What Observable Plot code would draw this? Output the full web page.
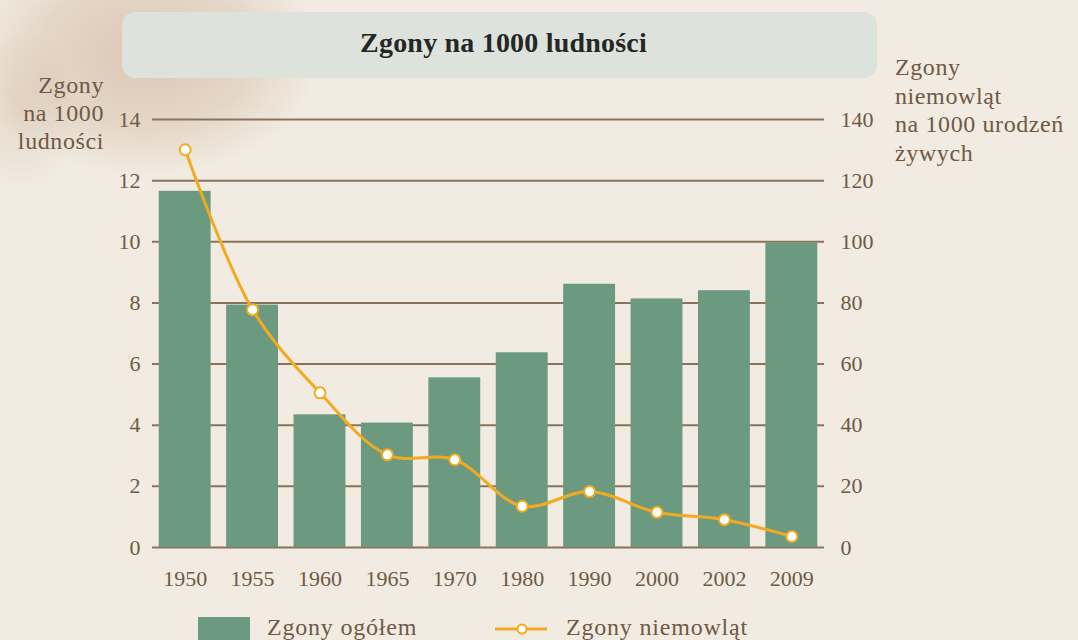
<!DOCTYPE html>
<html>
<head>
<meta charset="utf-8">
<script src="https://cdn.jsdelivr.net/npm/d3@7"></script>
<script src="https://cdn.jsdelivr.net/npm/@observablehq/plot@0.6"></script>
<style>
  html, body { margin: 0; padding: 0; }
  body {
    width: 1078px; height: 640px; overflow: hidden;
    background:
      radial-gradient(ellipse 175px 120px at 145px 55px, rgba(200,165,135,0.50), rgba(205,175,150,0.35) 60%, rgba(215,190,165,0) 100%),
      radial-gradient(ellipse 60px 80px at 20px 110px, rgba(200,170,145,0.3), rgba(200,170,145,0) 100%),
      #f1ebe1;
    font-family: "Liberation Serif", "DejaVu Serif", serif;
    color: #6e5a45;
  }
  #wrap { position: relative; width: 1078px; height: 640px; }
  #titlebox {
    position: absolute; left: 122px; top: 12px; width: 755px; height: 66px;
    background: #dde3dc; border-radius: 13px;
  }
  #titletext {
    position: absolute; left: 0; top: 14px; width: 763px; text-align: center;
    font-weight: bold; font-size: 28px; line-height: 34px; color: #262626; letter-spacing: 0.2px;
  }
  #chart { position: absolute; left: 0; top: 0; }
  .lab { position: absolute; font-size: 24px; line-height: 28px; letter-spacing: 0.6px; white-space: nowrap; }
  #leftlab { right: 974px; top: 71px; text-align: right; }
  #rightlab { left: 895px; top: 53px; text-align: left; line-height: 28.5px; }
  .sw { position: absolute; }
  .legtext { position: absolute; font-size: 24px; line-height: 28px; letter-spacing: 0.8px; white-space: nowrap; }
</style>
</head>
<body>
<div id="wrap">
  <div id="chart"></div>
  <div id="titlebox"><div id="titletext">Zgony na 1000 ludności</div></div>
  <div class="lab" id="leftlab">Zgony<br>na 1000<br>ludności</div>
  <div class="lab" id="rightlab">Zgony<br>niemowląt<br>na 1000 urodzeń<br>żywych</div>
  <div class="sw" style="left:198px; top:617px; width:52px; height:30px; background:#6b9a80;"></div>
  <div class="legtext" style="left:267px; top:613px;">Zgony ogółem</div>
  <svg class="sw" style="left:494px; top:621px;" width="54" height="16">
    <line x1="1" y1="8" x2="53" y2="8" stroke="#f2ab1f" stroke-width="3"></line>
    <circle cx="28" cy="8" r="4.5" fill="#fff" stroke="#f2ab1f" stroke-width="2"></circle>
  </svg>
  <div class="legtext" style="left:566px; top:613px;">Zgony niemowląt</div>
</div>
<script>
const years = ["1950","1955","1960","1965","1970","1980","1990","2000","2002","2009"];
const totalDeaths = [11.65, 7.93, 4.34, 4.07, 5.55, 6.37, 8.61, 8.13, 8.40, 9.96];
const infantDeaths = [130.1, 77.8, 50.6, 30.3, 28.7, 13.5, 18.3, 11.5, 9.1, 3.6];
const leftTicks = [0, 2, 4, 6, 8, 10, 12, 14];

const data = years.map((y, i) => ({year: y, total: totalDeaths[i], infant: infantDeaths[i]}));

const green = "#6b9a80";
const orange = "#f2ab1f";
const grid = "#8a735c";
const textCol = "#6e5a45";

const chart = Plot.plot({
  width: 1078,
  height: 610,
  marginLeft: 152,
  marginRight: 254,
  marginTop: 119,
  marginBottom: 63,
  style: {background: "transparent", fontFamily: "'Liberation Serif', 'DejaVu Serif', serif", fontSize: "22px", color: textCol},
  x: {domain: years, paddingInner: 0.23, paddingOuter: 0.1, round: false, label: null},
  y: {domain: [0, 14], label: null},
  marks: [
    Plot.gridY(leftTicks, {stroke: grid, strokeOpacity: 1, strokeWidth: 2}),
    Plot.barY(data, {x: "year", y: "total", fill: green}),
    Plot.line(data, {x: "year", y: d => d.infant / 10, stroke: orange, strokeWidth: 3, curve: "catmull-rom"}),
    Plot.dot(data, {x: "year", y: d => d.infant / 10, r: 5.5, fill: "#fff", stroke: orange, strokeWidth: 2}),
    Plot.axisY(leftTicks, {anchor: "left", tickSize: 0, tickPadding: 12, label: null, fontSize: 22}),
    Plot.axisY(leftTicks, {anchor: "right", tickSize: 0, tickPadding: 16, label: null, fontSize: 22, tickFormat: d => String(d * 10)}),
    Plot.axisX({anchor: "bottom", tickSize: 0, tickPadding: 23, label: null, fontSize: 22})
  ]
});
document.getElementById("chart").appendChild(chart);
</script>
</body>
</html>
